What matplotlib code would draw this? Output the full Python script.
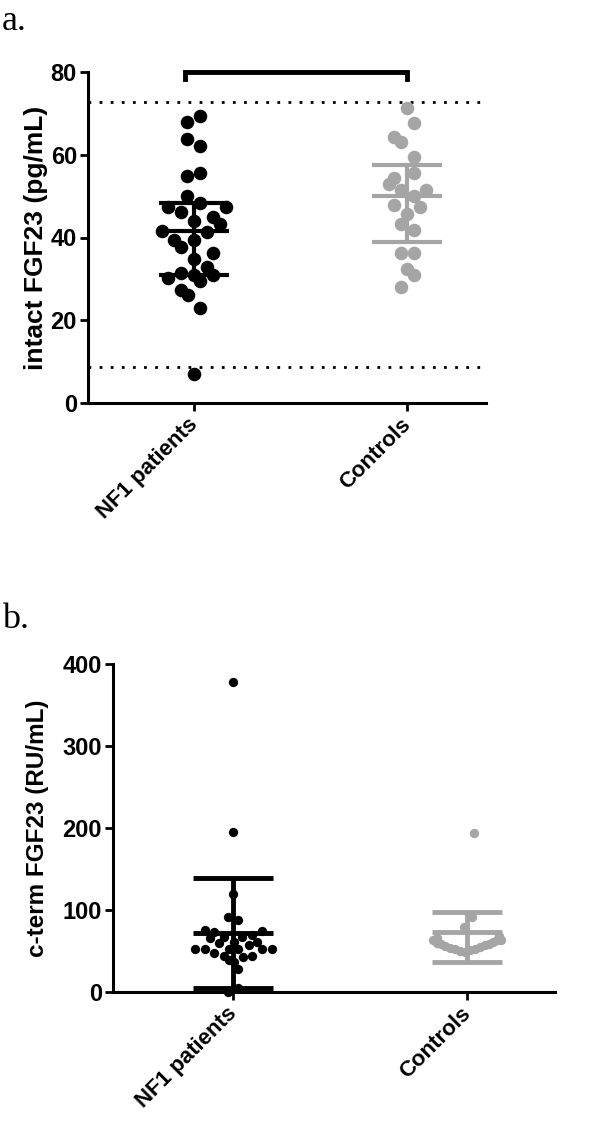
import matplotlib
matplotlib.use('Agg')
import matplotlib.pyplot as plt
import matplotlib.transforms as mtrans
import numpy as np

# categories
groups = ['NF1 patients', 'Controls']

# panel a: intact FGF23 (pg/mL), values and horizontal jitter (px)
a_nf1 = [69.3, 68.0, 63.8, 62.1, 55.7, 54.9, 50.0, 48.4, 47.4, 47.4, 46.2, 45.0, 44.0, 43.2, 41.5, 41.4,
         39.5, 39.4, 37.6, 36.3, 34.7, 32.9, 31.5, 30.9, 30.9, 30.1, 29.5, 27.3, 26.1, 22.9, 6.9]
a_nf1_jit = [6, -7, -7, 6, 6, -7, -7, 6, -26, 32, -13, 19, 0, 26, -32, 13,
             -20, 0, -13, 19, 0, 13, -13, 0, 19, -26, 6, -13, -6, 6, 0]
a_ctl = [71.3, 67.6, 64.3, 63.0, 59.5, 55.5, 54.3, 52.9, 51.4, 51.4, 50.0, 47.8, 47.4, 45.8, 43.2, 41.8,
         36.3, 36.3, 32.5, 30.9, 28.1]
a_ctl_jit = [0, 7, -13, -6, 7, 7, -13, -18, -6, 19, 7, -13, 13, 0, -6, 7, -6, 7, 0, 7, -6]
a_stats = [(30.9, 41.5, 48.4), (39.0, 50.0, 57.5)]  # low, mid, high
a_ref = [72.7, 8.7]

# panel b: c-term FGF23 (RU/mL)
b_nf1 = [378, 195.5, 119.5, 91, 88, 75.6, 73.5, 74.8, 65.5, 66.7, 66.7, 69.5, 61.3, 59.4, 61.3, 57.3,
         52.4, 52.4, 52.4, 52.4, 52.4, 52.4, 47.9, 43.9, 43.0, 43.9, 39, 37, 27.7, 0.4, 4.5]
b_nf1_jit = [0, 0, 0, -5, 5, -28, -19, 29, -23, -9, 9, 19, 24, -14, 1, 16,
             -38, -28, -4, 5, 29, 39, -19, -9, 10, 19, -4, 1, 5, -5, 5]
b_ctl = [194, 91, 79, 63, 60, 58, 56, 54, 52, 50, 49, 51, 53, 55, 57, 59, 61, 63, 64, 66, 68]
b_ctl_jit = [7, 5, -3, -34, -30, -26, -22, -17, -12, -7, -2, 3, 8, 13, 18, 22, 26, 30, 34, -30, 32]
b_stats = [(5, 72.3, 139), (37, 73.5, 98)]

colors = ['black', '#a5a5a5']

fig = plt.figure(figsize=(5.96, 11.23), dpi=100)
ax1 = fig.add_axes([88 / 596, 1 - 403 / 1123, 398 / 596, 331 / 1123])
ax2 = fig.add_axes([113 / 596, 1 - 992 / 1123, 442 / 596, 328 / 1123])

fam = ['Liberation Sans', 'DejaVu Sans']
tickfont = {'family': fam, 'weight': 'bold', 'size': 17}
xfont = {'family': fam, 'weight': 'bold', 'size': 16}


def style(ax, xl, yl, ymax, step, ysize):
    ax.set_xlim(xl)
    ax.set_ylim(0, ymax)
    for s in ['top', 'right']:
        ax.spines[s].set_visible(False)
    for s in ['left', 'bottom']:
        ax.spines[s].set_linewidth(2.2)
    ax.tick_params(width=2, length=6, pad=2)
    ax.set_yticks(np.arange(0, ymax + 1, step))
    ax.set_yticklabels([str(int(v)) for v in np.arange(0, ymax + 1, step)], fontdict=tickfont)
    ax.set_xticks([0, 1])
    ax.set_xticklabels(groups, fontdict=xfont, rotation=45, ha='right', rotation_mode='anchor')
    shift = mtrans.ScaledTranslation(-7 / 100, 0, fig.dpi_scale_trans)
    for t in ax.get_xticklabels():
        t.set_transform(t.get_transform() + shift)
    ax.set_ylabel(yl, family=fam, weight='bold', size=ysize)


def draw(ax, vals, jit, stats, pos, col, pxu, ms, half, lw):
    xs = [pos + j / pxu for j in jit]
    ax.scatter(xs, vals, s=ms, color=col, zorder=3, clip_on=False, linewidths=0)
    lo, mid, hi = stats
    ax.plot([pos, pos], [lo, hi], color=col, lw=lw, zorder=4, solid_capstyle='butt')
    for v in stats:
        ax.plot([pos - half, pos + half], [v, v], color=col, lw=lw, zorder=4, solid_capstyle='butt')


# panel a
px_a = 213
style(ax1, (-106 / px_a, 1 + 79 / px_a), 'intact FGF23 (pg/mL)', 80, 20, 19)
draw(ax1, a_nf1, a_nf1_jit, a_stats[0], 0, colors[0], px_a, 95, 0.165, 3)
draw(ax1, a_ctl, a_ctl_jit, a_stats[1], 1, colors[1], px_a, 95, 0.165, 3)
for r in a_ref:
    ax1.axhline(r, color='black', ls=(0, (1, 3)), lw=2)
ax1.plot([-0.04, -0.04, 1.0, 1.0], [78.2, 80, 80, 78.2], color='black', lw=3.5, clip_on=False,
         solid_joinstyle='miter')
ax1.yaxis.set_label_coords(-0.1, 0.5)

# panel b
px_b = 234
style(ax2, (-120 / px_b, 1 + 88 / px_b), 'c-term FGF23 (RU/mL)', 400, 100, 17.5)
draw(ax2, b_nf1, b_nf1_jit, b_stats[0], 0, colors[0], px_b, 45, 0.17, 3.5)
draw(ax2, b_ctl, b_ctl_jit, b_stats[1], 1, colors[1], px_b, 45, 0.15, 3.5)
ax2.yaxis.set_label_coords(-0.145, 0.5)

fig.text(2 / 596, 1 - 30 / 1123, 'a.', family='Liberation Serif', fontsize=26)
fig.text(2 / 596, 1 - 628 / 1123, 'b.', family='Liberation Serif', fontsize=26)

fig.savefig('out.png', dpi=100)
